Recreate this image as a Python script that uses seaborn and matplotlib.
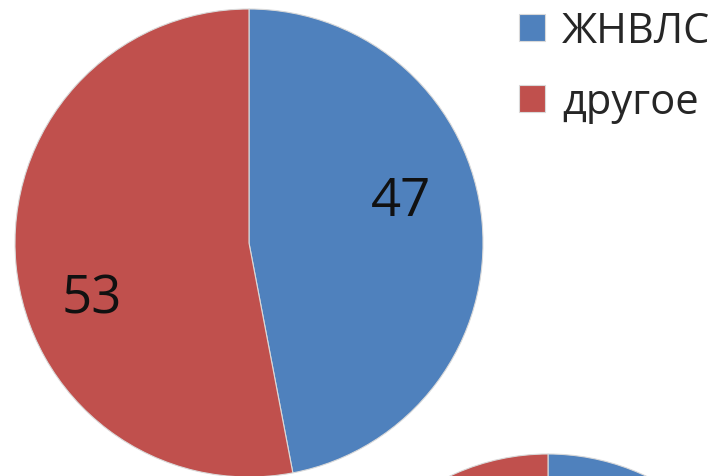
import matplotlib
matplotlib.use("Agg")
import matplotlib.pyplot as plt
import seaborn as sns

# data
categories = ['ЖНВЛС', 'другое']
values_main = [47, 53]
values_second = [47, 53]  # second pie is mostly cut off at the bottom
labels_main = ['47', '53']

sns.set_theme(style='white')
plt.rcParams['font.family'] = ['Open Sans', 'DejaVu Sans']

colors = ['#4F81BD', '#C0504D']
W, H = 713, 477
fig = plt.figure(figsize=(W / 100, H / 100), dpi=100)
fig.patch.set_facecolor('white')


def pie_axes(cx, cy, r):
    # cx, cy, r in pixels from the top-left corner
    return fig.add_axes([(cx - r) / W, (H - cy - r) / H, 2 * r / W, 2 * r / H])


def fix_axes(ax):
    ax.set_xlim(-1, 1)
    ax.set_ylim(-1, 1)
    ax.set_aspect('equal')
    ax.axis('off')


ax = pie_axes(249, 244, 234)
wedges, _ = ax.pie(values_main, colors=colors, startangle=90, counterclock=False,
                   radius=1, wedgeprops=dict(edgecolor='#d9d9d9', linewidth=0.8))
fix_axes(ax)
# data labels (Excel "best fit" placement)
label_pos = [(0.65, 0.18), (-0.67, -0.24)]
for (x, y), t in zip(label_pos, labels_main):
    ax.text(x, y, t, ha='center', va='center', fontsize=38, color='#111111')

ax2 = pie_axes(548, 684, 229)
ax2.pie(values_second, colors=colors, startangle=90, counterclock=False,
        radius=1, wedgeprops=dict(edgecolor='#d9d9d9', linewidth=0.8))
fix_axes(ax2)

fig.legend(wedges, categories, loc='upper left', bbox_to_anchor=(494 / W, 1.03),
           frameon=False, fontsize=30, handlelength=0.62, handleheight=0.62,
           handletextpad=0.42, labelspacing=0.7, borderaxespad=0.2)

fig.savefig('out.png', dpi=100, facecolor='white')
